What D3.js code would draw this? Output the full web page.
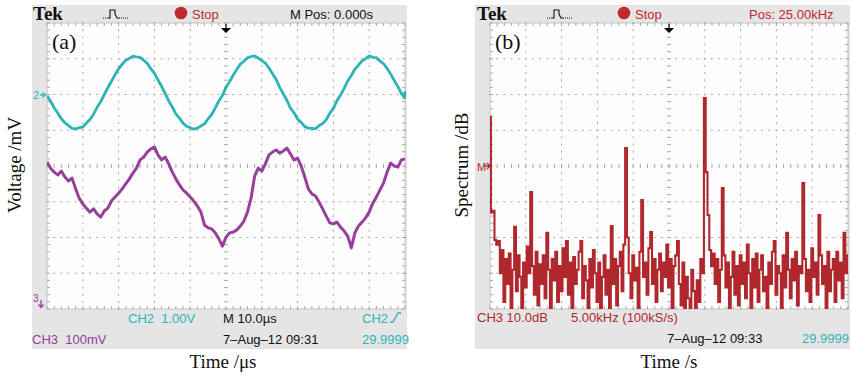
<!DOCTYPE html>
<html>
<head>
<meta charset="utf-8">
<script src="https://cdn.jsdelivr.net/npm/d3@7"></script>
<style>
  body { margin: 0; background: #fff; }
  text { white-space: pre; }
</style>
</head>
<body>
<svg id="viz" width="851" height="377"></svg>
<script>
// ---- data read off the two scope screens ----
// (a) time axis: 10 div x 10.0us, trigger in the middle
const timeSpanUs = [-50, 50];
// CH2, volts, one sample per microsecond
const ch2Volts = [
  -0.04, -0.19, -0.37, -0.52, -0.68, -0.79, -0.87, -0.95, -0.96, -0.93, -0.91, -0.80, -0.70, -0.55, -0.36, -0.20, 0.00,
  0.19, 0.37, 0.55, 0.72, 0.84, 0.96, 1.01, 1.07, 1.05, 1.04, 0.96, 0.87, 0.72, 0.60, 0.41, 0.23,
  0.03, -0.18, -0.35, -0.54, -0.66, -0.80, -0.89, -0.93, -0.97, -0.94, -0.88, -0.82, -0.68, -0.56, -0.38, -0.18, -0.03,
  0.20, 0.36, 0.54, 0.70, 0.85, 0.93, 1.03, 1.06, 1.08, 1.02, 0.95, 0.88, 0.74, 0.58, 0.42, 0.20,
  0.02, -0.16, -0.38, -0.51, -0.69, -0.78, -0.90, -0.94, -0.95, -0.96, -0.87, -0.81, -0.71, -0.52, -0.39, -0.17, -0.02,
  0.17, 0.38, 0.53, 0.71, 0.82, 0.94, 1.00, 1.08, 1.04, 1.03, 0.94, 0.86, 0.73, 0.57, 0.39, 0.22,
  0.03, -0.12
];
// CH3, millivolts above its ground marker, one sample per microsecond
const ch3MilliVolts = [
  411, 394, 383, 375, 386, 369, 358, 366, 336, 310, 294, 282, 271, 280, 266, 257, 274, 282, 302, 313,
  324, 336, 350, 364, 380, 394, 417, 425, 439, 448, 453, 431, 417, 425, 406, 383, 364, 347, 333, 324,
  313, 302, 288, 271, 235, 227, 224, 213, 196, 176, 201, 213, 215, 221, 232, 246, 271, 310, 372, 394,
  386, 406, 431, 439, 445, 436, 442, 450, 434, 417, 422, 400, 369, 336, 322, 316, 299, 280, 260, 241,
  238, 243, 229, 218, 204, 171, 213, 232, 243, 255, 271, 296, 313, 333, 352, 383, 408, 400, 397, 417,
  420
];
// (b) FFT: 0..50 kHz (5.00 kHz/div), 10 dB/div, 0 dB at the M marker
const freqSpanKHz = [0, 50];
const spectrumDb = [
  13.7, -13.0, -12.5, -20.7, -22.0, -21.0, -30.0, -23.5, -38.0, -26.0,
  -33.0, -24.5, -40.0, -29.0, -17.0, -35.0, -25.0, -31.0, -40.0, -27.0,
  -34.0, -22.5, -30.0, -7.3, -28.0, -36.0, -24.0, -39.0, -27.5, -33.0,
  -25.0, -37.0, -18.7, -29.0, -40.0, -26.0, -32.0, -24.0, -38.0, -28.0,
  -35.0, -23.0, -31.0, -21.0, -36.0, -27.0, -40.0, -25.5, -33.0, -29.0,
  -24.0, -21.0, -37.0, -28.0, -32.0, -40.0, -26.0, -34.0, -23.5, -30.0,
  -38.0, -27.0, -40.0, -31.0, -25.0, -36.0, -29.0, -40.0, -16.8, -33.0,
  -26.0, -39.0, -28.0, -24.0, -35.0, -22.0, 5.0, -20.0, -30.0, -37.0,
  -25.0, -32.0, -28.5, -40.0, -24.0, -9.5, -31.0, -27.0, -36.0, -23.0,
  -18.5, -33.0, -26.0, -38.0, -29.0, -24.5, -35.0, -27.0, -31.0, -22.0,
  -34.0, -26.0, -40.0, -28.0, -25.0, -21.0, -33.0, -39.0, -27.0, -40.0,
  -31.0, -37.0, -40.0, -29.0, -35.0, -40.0, -32.0, -38.0, -26.0, -30.0,
  19.0, -1.7, -13.7, -23.5, -28.0, -24.5, -33.0, -26.0, -38.0, -29.0,
  -6.2, -25.0, -34.0, -27.0, -40.0, -31.0, -24.0, -36.0, -28.0, -39.0,
  -25.0, -33.0, -27.0, -37.0, -22.0, -30.0, -40.0, -26.0, -34.0, -24.5,
  -38.0, -29.0, -25.0, -35.0, -31.0, -40.0, -27.0, -33.0, -24.0, -21.0,
  -36.0, -28.0, -30.0, -40.0, -25.0, -34.0, -18.7, -29.0, -37.0, -26.0,
  -32.0, -24.0, -39.0, -28.0, -30.0, -4.8, -26.0, -35.0, -29.0, -38.0,
  -23.0, -31.0, -27.0, -36.0, -13.7, -25.0, -33.0, -28.0, -40.0, -24.0,
  -35.0, -29.0, -26.0, -38.0, -24.0, -32.0, -27.0, -37.0, -18.7, -30.0,
  -25.0
];

// ---- styling ----
const CYAN = '#2db5b5', PURPLE = '#96409c', RED = '#b0282d';
const SANS = '"Liberation Sans", Arial, sans-serif';
const SERIF = '"Liberation Serif", "Times New Roman", serif';
const plotW = 358, plotH = 286, plotTop = 23;

const svg = d3.select('#viz');

function txt(x, y, s, opts) {
  opts = opts || {};
  return svg.append('text')
    .attr('x', x).attr('y', y)
    .attr('font-family', opts.family || SANS)
    .attr('font-size', opts.size || 13)
    .attr('font-weight', opts.weight || 'normal')
    .attr('fill', opts.fill || '#111')
    .attr('text-anchor', opts.anchor || 'start')
    .text(s);
}

// gray frame + white graticule with dotted tek grid
function scopePanel(frameX, plotX, id) {
  svg.append('rect')
    .attr('x', frameX).attr('y', 5)
    .attr('width', plotX + plotW + 2 - frameX).attr('height', 344)
    .attr('fill', '#e5e5e5');
  svg.append('rect')
    .attr('x', plotX).attr('y', plotTop)
    .attr('width', plotW).attr('height', plotH)
    .attr('fill', '#fdfdfd')
    .attr('stroke', '#c4c4c4').attr('stroke-width', 1);

  const xDiv = d3.scaleLinear().domain([0, 10]).range([plotX, plotX + plotW]);
  const yDiv = d3.scaleLinear().domain([-4, 4]).range([plotTop + plotH, plotTop]);
  const g = svg.append('g').attr('fill', '#a8a8a8').attr('stroke', '#a8a8a8');
  const minorX = d3.range(0, 50.5, 1).map(d => d / 5);
  const minorY = d3.range(-20, 20.5, 1).map(d => d / 5);

  // dotted division lines
  [1, 2, 3, 4, 6, 7, 8, 9].forEach(k => {
    minorY.forEach(m => {
      g.append('rect').attr('x', xDiv(k) - 0.5).attr('y', yDiv(m) - 1)
        .attr('width', 1).attr('height', 2).attr('stroke', 'none');
    });
  });
  [-3, -2, -1, 1, 2, 3].forEach(j => {
    minorX.forEach(m => {
      g.append('rect').attr('x', xDiv(m) - 1).attr('y', yDiv(j) - 0.5)
        .attr('width', 2).attr('height', 1).attr('stroke', 'none');
    });
  });
  // center cross with minor ticks
  minorY.forEach(m => {
    g.append('line').attr('x1', xDiv(5) - 2).attr('x2', xDiv(5) + 2)
      .attr('y1', yDiv(m)).attr('y2', yDiv(m)).attr('stroke-width', 1);
  });
  minorX.forEach(m => {
    g.append('line').attr('x1', xDiv(m)).attr('x2', xDiv(m))
      .attr('y1', yDiv(0) - 2).attr('y2', yDiv(0) + 2).attr('stroke-width', 1);
  });
  // border ticks
  minorX.forEach(m => {
    g.append('line').attr('x1', xDiv(m)).attr('x2', xDiv(m))
      .attr('y1', plotTop).attr('y2', plotTop + 3).attr('stroke-width', 1);
    g.append('line').attr('x1', xDiv(m)).attr('x2', xDiv(m))
      .attr('y1', plotTop + plotH - 3).attr('y2', plotTop + plotH).attr('stroke-width', 1);
  });
  minorY.forEach(m => {
    g.append('line').attr('x1', plotX).attr('x2', plotX + 3)
      .attr('y1', yDiv(m)).attr('y2', yDiv(m)).attr('stroke-width', 1);
    g.append('line').attr('x1', plotX + plotW - 3).attr('x2', plotX + plotW)
      .attr('y1', yDiv(m)).attr('y2', yDiv(m)).attr('stroke-width', 1);
  });

  svg.append('clipPath').attr('id', id)
    .append('rect').attr('x', plotX).attr('y', plotTop)
    .attr('width', plotW).attr('height', plotH);

  // trigger position arrow
  const cx = xDiv(5);
  svg.append('path')
    .attr('d', `M${cx - 5},28 L${cx + 5},28 L${cx},33 Z M${cx - 0.6},24 L${cx + 0.6},24 L${cx + 0.6},28 L${cx - 0.6},28 Z`)
    .attr('fill', '#000');
  return { xDiv, yDiv };
}

// header bar of a Tek screen
function header(x0, iconX, dotX, right, rightX, rightColor) {
  txt(x0, 20, 'Tek', { family: SERIF, size: 19, weight: 'bold' });
  svg.append('path')
    .attr('d', `M${iconX + 5},18 L${iconX + 7},18 L${iconX + 7},10 L${iconX + 12},10 L${iconX + 12},14 L${iconX + 14},18 L${iconX + 16},18`)
    .attr('fill', 'none').attr('stroke', '#111').attr('stroke-width', 1.1);
  svg.append('line').attr('x1', iconX).attr('x2', iconX + 5).attr('y1', 18).attr('y2', 18)
    .attr('stroke', '#111').attr('stroke-dasharray', '1,1');
  svg.append('line').attr('x1', iconX + 16).attr('x2', iconX + 26).attr('y1', 18).attr('y2', 18)
    .attr('stroke', '#111').attr('stroke-dasharray', '1,1');
  svg.append('circle').attr('cx', dotX).attr('cy', 13).attr('r', 6.3).attr('fill', '#c0282e');
  txt(dotX + 11, 19, 'Stop', { fill: '#c0282e' });
  txt(rightX, 19, right, { fill: rightColor });
}

// ---------- panel (a) ----------
const A = scopePanel(32, 47, 'clipA');
header(33, 103, 181, 'M Pos: 0.000s', 290, '#111');
txt(52, 49, '(a)', { family: SERIF, size: 22 });

const tScale = d3.scaleLinear().domain(timeSpanUs).range([47, 47 + plotW]);
const ch2Scale = d3.scaleLinear().domain([-6, 2]).range([plotTop + plotH, plotTop]); // 1.00V/div, ground +2 div
const ch3Scale = d3.scaleLinear().domain([0, 800]).range([plotTop + plotH, plotTop]); // 100mV/div, ground -4 div
const timesUs = d3.range(timeSpanUs[0], timeSpanUs[1] + 0.5, 1);

const gA = svg.append('g').attr('clip-path', 'url(#clipA)');
gA.append('path')
  .datum(ch2Volts)
  .attr('d', d3.line().x((d, i) => tScale(timesUs[i])).y(d => ch2Scale(d)))
  .attr('fill', 'none').attr('stroke', CYAN).attr('stroke-width', 2.8)
  .attr('stroke-linejoin', 'round');
gA.append('path')
  .datum(ch3MilliVolts)
  .attr('d', d3.line().x((d, i) => tScale(timesUs[i])).y(d => ch3Scale(d)))
  .attr('fill', 'none').attr('stroke', PURPLE).attr('stroke-width', 3)
  .attr('stroke-linejoin', 'round');

// channel markers
txt(33, 99, '2', { size: 11, fill: CYAN });
svg.append('path').attr('d', 'M40,95 L44,95 M42.5,92.5 L45.5,95 L42.5,97.5')
  .attr('stroke', CYAN).attr('stroke-width', 1.3).attr('fill', 'none');
svg.append('path').attr('d', `M406,${ch2Scale(0) - 4} L400,${ch2Scale(0)} L406,${ch2Scale(0) + 4} Z`)
  .attr('fill', CYAN);
txt(33, 302, '3', { size: 10, fill: PURPLE });
svg.append('path').attr('d', 'M41,300 L41,307 M38.5,304.5 L41,307.5 L43.5,304.5')
  .attr('stroke', PURPLE).attr('stroke-width', 1.3).attr('fill', 'none');

// readouts
txt(128, 323, 'CH2\u00a0\u00a01.00V', { fill: CYAN });
txt(223, 323, 'M 10.0\u00b5s');
txt(362, 323, 'CH2', { fill: CYAN });
svg.append('path').attr('d', 'M390,322 L393,322 L398,313 L401,313')
  .attr('fill', 'none').attr('stroke', CYAN).attr('stroke-width', 1.3);
txt(32, 344, 'CH3\u00a0\u00a0100mV', { fill: PURPLE });
txt(223, 344, '7\u2013Aug\u201312 09:31');
txt(362, 344, '29.9999', { fill: CYAN });

// ---------- panel (b) ----------
const B = scopePanel(475, 490, 'clipB');
header(477, 547, 624, 'Pos: 25.00kHz', 749, '#c0282e');
txt(495, 49, '(b)', { family: SERIF, size: 22 });

const fScale = d3.scaleLinear().domain(freqSpanKHz).range([490, 490 + plotW]);
const dbScale = d3.scaleLinear().domain([-40, 40]).range([plotTop + plotH, plotTop]);
const freqsKHz = d3.range(0, spectrumDb.length).map(i => freqSpanKHz[1] * i / (spectrumDb.length - 1));

svg.append('g').attr('clip-path', 'url(#clipB)')
  .append('path')
  .datum(spectrumDb)
  .attr('d', d3.line().x((d, i) => fScale(freqsKHz[i])).y(d => dbScale(d)).curve(d3.curveStep))
  .attr('fill', 'none').attr('stroke', RED).attr('stroke-width', 2.1);

txt(477, 171, 'M', { size: 11, fill: RED });
svg.append('path').attr('d', `M485,${dbScale(0)} L490,${dbScale(0)} M487,${dbScale(0) - 3} L490,${dbScale(0)} L487,${dbScale(0) + 3}`)
  .attr('stroke', RED).attr('stroke-width', 1.3).attr('fill', 'none');

txt(477, 322, 'CH3 10.0dB', { fill: RED });
txt(571, 322, '5.00kHz (100kS/s)', { fill: RED });
txt(667, 343, '7\u2013Aug\u201312 09:33');
txt(849, 343, '29.9999', { fill: CYAN, anchor: 'end' });

// ---------- outer axis captions ----------
txt(223, 368, 'Time /\u03bcs', { family: SERIF, size: 19, anchor: 'middle' });
txt(669, 368, 'Time /s', { family: SERIF, size: 19, anchor: 'middle' });
txt(0, 0, 'Voltage /mV', { family: SERIF, size: 19, anchor: 'middle' })
  .attr('transform', 'translate(21,165) rotate(-90)');
txt(0, 0, 'Spectrum /dB', { family: SERIF, size: 19, anchor: 'middle' })
  .attr('transform', 'translate(468,165) rotate(-90)');
</script>
</body>
</html>
